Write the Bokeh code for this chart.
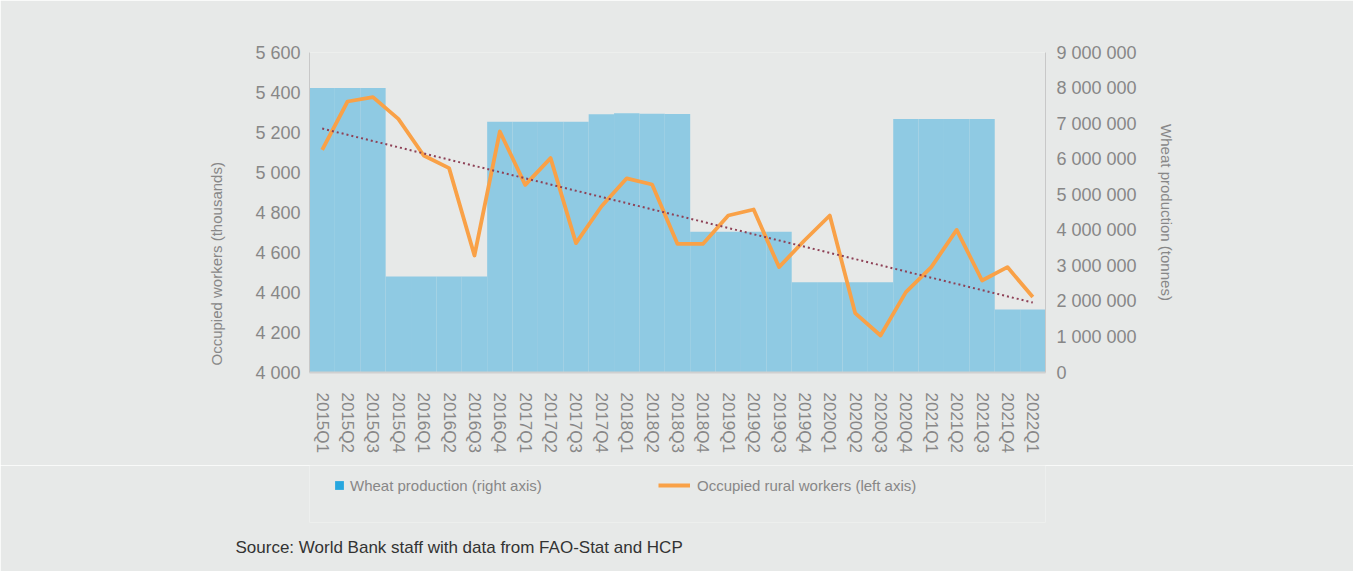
import math
import numpy as np
from bokeh.plotting import figure
from bokeh.layouts import column
from bokeh.models import (FactorRange, Range1d, LinearAxis, FixedTicker, Legend,
                          LegendItem, Title)
from bokeh.embed import file_html
from bokeh.resources import INLINE

# ---------------- data ----------------
quarters = ["2015Q1", "2015Q2", "2015Q3", "2015Q4", "2016Q1", "2016Q2", "2016Q3",
            "2016Q4", "2017Q1", "2017Q2", "2017Q3", "2017Q4", "2018Q1", "2018Q2",
            "2018Q3", "2018Q4", "2019Q1", "2019Q2", "2019Q3", "2019Q4", "2020Q1",
            "2020Q2", "2020Q3", "2020Q4", "2021Q1", "2021Q2", "2021Q3", "2021Q4",
            "2022Q1"]

wheat_tonnes = [8000000, 8000000, 8000000, 2700000, 2700000, 2700000, 2700000,
                7050000, 7050000, 7050000, 7050000, 7260000, 7290000, 7280000,
                7270000, 3960000, 3960000, 3960000, 3960000, 2540000, 2540000,
                2540000, 2540000, 7130000, 7130000, 7130000, 7130000, 1770000,
                1770000]

rural_workers = [5113, 5355, 5377, 5268, 5085, 5022, 4585, 5205, 4938, 5072,
                 4647, 4830, 4971, 4940, 4643, 4643, 4785, 4815, 4527, 4660,
                 4785, 4297, 4185, 4402, 4527, 4713, 4460, 4527, 4377]

left_ticks = [4000, 4200, 4400, 4600, 4800, 5000, 5200, 5400, 5600]
left_labels = ["4 000", "4 200", "4 400", "4 600", "4 800", "5 000", "5 200",
               "5 400", "5 600"]
right_ticks = [0, 1000000, 2000000, 3000000, 4000000, 5000000, 6000000,
               7000000, 8000000, 9000000]
right_labels = ["0", "1 000 000", "2 000 000", "3 000 000", "4 000 000",
                "5 000 000", "6 000 000", "7 000 000", "8 000 000", "9 000 000"]

left_title = "Occupied workers (thousands)"
right_title = "Wheat production (tonnes)"
legend_wheat = "Wheat production (right axis)"
legend_workers = "Occupied rural workers (left axis)"
source_text = "Source: World Bank staff with data from FAO-Stat and HCP"

# ---------------- styles ----------------
BG = "#e7e9e8"
TICK_COL = "#878787"
FONT = "Liberation Sans"
BAR_COL = "#8fcae3"
LEG_SQ_COL = "#27a7df"
LINE_COL = "#f9a147"
W = 1353
H_MAIN = 465
H_LEG = 106

p = figure(x_range=FactorRange(factors=quarters, range_padding=0),
           y_range=Range1d(left_ticks[0], left_ticks[-1]),
           width=W, height=H_MAIN,
           output_backend="svg", toolbar_location=None,
           min_border_left=309, min_border_right=308, min_border_top=52,
           min_border_bottom=93)
p.background_fill_color = BG
p.border_fill_color = BG
p.outline_line_color = None
p.xgrid.visible = False
p.ygrid.visible = False

p.extra_y_ranges = {"wheat": Range1d(right_ticks[0], right_ticks[-1])}

p.vbar(x=quarters, top=wheat_tonnes, bottom=0, width=1.0,
       y_range_name="wheat", fill_color=BAR_COL, line_color=None)

p.line(x=quarters, y=rural_workers, line_color=LINE_COL,
       line_width=3.8, line_join="round")

idx = np.arange(len(quarters))
coef = np.polyfit(idx, rural_workers, 1)
trend_y = np.polyval(coef, [idx[0], idx[-1]])
p.line(x=[quarters[0], quarters[-1]], y=list(trend_y), line_color="#8e4156",
       line_width=2, line_dash="2 3")

# left axis
yax = p.yaxis[0]
yax.ticker = FixedTicker(ticks=left_ticks)
yax.major_label_overrides = dict(zip(left_ticks, left_labels))

# right axis
rax = LinearAxis(y_range_name="wheat", ticker=FixedTicker(ticks=right_ticks),
                 major_label_overrides=dict(zip(right_ticks, right_labels)))
p.add_layout(rax, "right")

for ax in [yax, rax]:
    ax.axis_line_color = "#c8c8c8"
    ax.axis_line_width = 1
    ax.major_tick_line_color = None
    ax.minor_tick_line_color = None
    ax.major_tick_out = 0
    ax.major_tick_in = 0
    ax.major_label_text_font = FONT
    ax.major_label_text_font_size = "18px"
    ax.major_label_text_color = TICK_COL
yax.major_label_standoff = 9
rax.major_label_standoff = 11
rax.axis_label = right_title
rax.axis_label_standoff = 18
rax.axis_label_text_font = FONT
rax.axis_label_text_font_size = "15px"
rax.axis_label_text_font_style = "normal"
rax.axis_label_text_color = TICK_COL

# left axis title as a side title so it can be shifted along the axis
p.add_layout(Title(text=left_title, align="left", offset=7, standoff=56,
                   text_font=FONT, text_font_size="15px",
                   text_font_style="normal", text_color=TICK_COL), "left")

xax = p.xaxis[0]
xax.axis_line_color = "#d0d0d0"
xax.axis_line_width = 2
xax.major_tick_line_color = None
xax.minor_tick_line_color = None
xax.major_tick_out = 0
xax.major_tick_in = 0
xax.major_label_orientation = -math.pi / 2
xax.major_label_standoff = 20
xax.major_label_text_font = FONT
xax.major_label_text_font_size = "17px"
xax.major_label_text_color = TICK_COL

# ---------------- legend + source strip ----------------
q = figure(width=W, height=H_LEG, x_range=Range1d(0, 1), y_range=Range1d(0, 1),
           output_backend="svg", toolbar_location=None,
           x_axis_location=None, y_axis_location=None,
           min_border_left=309, min_border_right=308, min_border_top=0,
           min_border_bottom=48)
q.background_fill_color = BG
q.border_fill_color = BG
q.outline_line_color = None
q.xgrid.visible = False
q.ygrid.visible = False

# legend swatches: one off-screen point each, so the legend can draw them
sq = q.scatter(x=[-5], y=[-5], marker="square", size=9, fill_color=LEG_SQ_COL,
               line_color=None)
ln = q.line(x=[-5, -4], y=[-5, -5], line_color=LINE_COL, line_width=3.8)

for item, loc, gw, gh, stand in [
        (LegendItem(label=legend_wheat, renderers=[sq]), (19, 26), 22, 22, 0),
        (LegendItem(label=legend_workers, renderers=[ln]), (349, 26), 32, 22, 7)]:
    lg = Legend(items=[item], location=loc, orientation="horizontal",
                glyph_width=gw, glyph_height=gh, padding=0, margin=0,
                label_standoff=stand, background_fill_alpha=0,
                border_line_color=None, label_text_font=FONT,
                label_text_font_size="15px", label_text_color=TICK_COL)
    q.add_layout(lg, "center")

q.add_layout(Title(text=source_text, align="left", offset=-74, standoff=28,
                   vertical_align="middle", text_font=FONT,
                   text_font_size="17px", text_font_style="normal",
                   text_color="#333333"), "below")

layout = column(p, q, spacing=0)
open("out.html", "w").write(file_html(layout, INLINE))
